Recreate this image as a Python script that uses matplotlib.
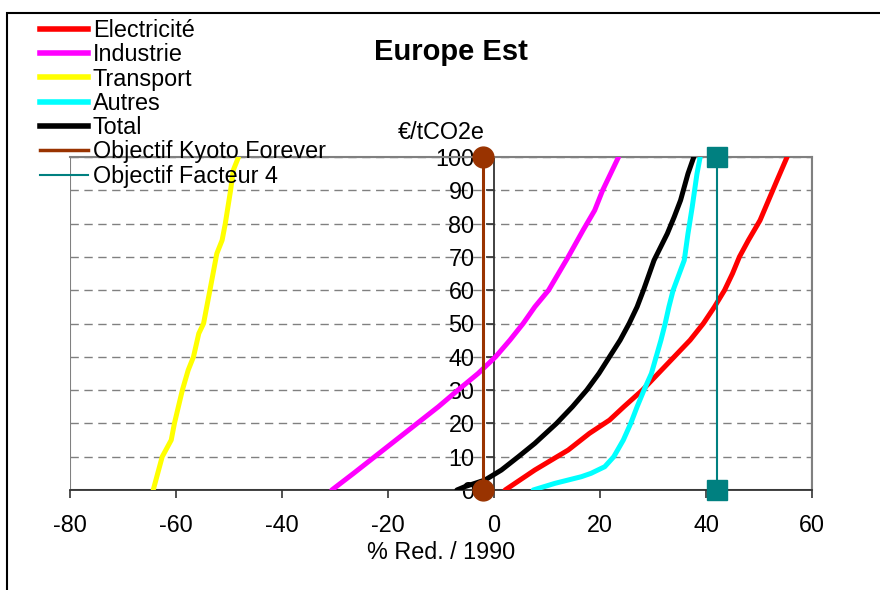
import matplotlib
matplotlib.use('Agg')
import matplotlib.pyplot as plt
from matplotlib.lines import Line2D
from matplotlib.patches import Rectangle

plt.rcParams['font.family'] = ['Liberation Sans', 'DejaVu Sans']
plt.rcParams['axes.unicode_minus'] = False

# courbes : prix (€/tCO2e) en fonction de la réduction (% / 1990)
elec_y = [0, 6, 12, 17, 21, 25, 30, 35, 40, 45, 50, 55, 60, 65, 70, 75, 81, 87, 93, 100]
elec_x = [2.1, 7.7, 14.0, 18.0, 21.8, 24.5, 28.0, 31.0, 34.0, 37.0, 39.5, 41.6, 43.5, 45.0, 46.3, 48.0, 50.2, 51.8, 53.4, 55.3]

indus_y = [0, 5, 10, 15, 20, 25, 30, 35, 40, 45, 50, 55, 60, 70, 78, 84, 90, 100]
indus_x = [-30.6, -26.5, -22.5, -18.5, -14.5, -10.5, -6.8, -3.0, 0.3, 3.0, 5.5, 7.7, 10.3, 14.0, 16.8, 19.0, 20.5, 23.5]

trans_y = [0, 10, 15, 20, 30, 36, 40, 47, 50, 60, 71, 75, 80, 90, 96, 100]
trans_x = [-64.3, -62.6, -60.9, -60.3, -58.8, -57.7, -56.7, -55.7, -54.8, -53.6, -52.3, -51.3, -50.7, -49.7, -49.2, -48.2]

autres_y = [0, 2, 4, 5, 7, 10, 15, 20, 25, 30, 35, 40, 45, 50, 55, 60, 69, 77, 85, 95, 100]
autres_x = [7.4, 11.5, 16.5, 18.3, 20.9, 22.6, 24.4, 25.8, 27.0, 28.3, 29.7, 30.6, 31.5, 32.3, 33.0, 33.8, 35.9, 36.6, 37.4, 38.3, 38.9]

total_y = [0, 1, 3, 6, 10, 14, 20, 25, 30, 35, 40, 45, 50, 55, 60, 69, 77, 82, 87, 95, 100]
total_x = [-7.0, -5.5, -1.7, 1.4, 4.6, 7.7, 11.8, 14.8, 17.5, 19.8, 21.8, 23.8, 25.5, 27.0, 28.2, 30.2, 32.7, 34.0, 35.2, 36.6, 37.7]

kyoto_x = [-2, -2]
kyoto_y = [0, 100]
f4_x = [42, 42]
f4_y = [0, 100]

fs = 16.8

fig = plt.figure(figsize=(8.8, 5.9), dpi=100)
W, H = 880, 590
ax = fig.add_axes([70 / W, 1 - 490 / H, (812 - 70) / W, (490 - 157) / H])

lw = 3.6
ax.plot(elec_x, elec_y, color='#FF0000', lw=lw, solid_capstyle='round', zorder=3)
ax.plot(indus_x, indus_y, color='#FF00FF', lw=lw, solid_capstyle='round', zorder=3)
ax.plot(trans_x, trans_y, color='#FFFF00', lw=lw, solid_capstyle='round', zorder=3)
ax.plot(autres_x, autres_y, color='#00FFFF', lw=lw, solid_capstyle='round', zorder=3)
ax.plot(total_x, total_y, color='black', lw=lw, solid_capstyle='round', zorder=3)
ax.plot(kyoto_x, kyoto_y, color='#993300', lw=2.2, marker='o', ms=15,
        clip_on=False, zorder=5)
ax.plot(f4_x, f4_y, color='#008080', lw=1.5, marker='s', ms=15,
        clip_on=False, zorder=5)

ax.set_xlim(-80, 60)
ax.set_ylim(0, 100)
ax.set_xticks(range(-80, 61, 20))
ax.set_yticks(range(0, 101, 10))
ax.yaxis.grid(True, color='#808080', ls=(0, (6, 4)), lw=1)
ax.set_axisbelow(True)

for s in ['top', 'right']:
    ax.spines[s].set_color('#808080')
    ax.spines[s].set_linewidth(1.5)
ax.spines['left'].set_position(('data', 0))
ax.spines['left'].set_color('#333333')
ax.spines['bottom'].set_color('#333333')
ax.spines['left'].set_linewidth(1.3)
ax.spines['bottom'].set_linewidth(1.3)
ax.add_patch(Rectangle((0, 0), 1, 1, transform=ax.transAxes, fill=False,
                       ec='#808080', lw=1.5, zorder=0.5))

ax.tick_params(axis='both', direction='out', length=6, width=1.2,
               color='#333333', labelsize=fs)
ax.tick_params(axis='y', pad=8)
ax.tick_params(axis='x', pad=11)
ax.set_xlabel('% Red. / 1990', fontsize=fs, labelpad=3)
ax.text(-10, 104, '€/tCO2e', fontsize=fs, ha='center', va='bottom')

fig.text(451 / W, 1 - 52 / H, 'Europe Est', fontsize=21, fontweight='bold',
         ha='center', va='center')

handles = [
    Line2D([], [], color='#FF0000', lw=4),
    Line2D([], [], color='#FF00FF', lw=4),
    Line2D([], [], color='#FFFF00', lw=4),
    Line2D([], [], color='#00FFFF', lw=4),
    Line2D([], [], color='black', lw=4),
    Line2D([], [], color='#993300', lw=2.5),
    Line2D([], [], color='#008080', lw=1.5),
]
labels = ['Electricité', 'Industrie', 'Transport', 'Autres', 'Total',
          'Objectif Kyoto Forever', 'Objectif Facteur 4']
fig.legend(handles, labels, loc='upper left', bbox_to_anchor=(40 / W, 1 - 19 / H),
           frameon=False, fontsize=fs, labelspacing=0.055, handlelength=2.06,
           handletextpad=0.2, borderpad=0, borderaxespad=0)

fig.add_artist(Rectangle((7 / W, -0.05), 1.1, 1 - 13 / H + 0.05,
                         transform=fig.transFigure, fill=False, ec='black', lw=1.5))

fig.savefig('out.png', dpi=100)
